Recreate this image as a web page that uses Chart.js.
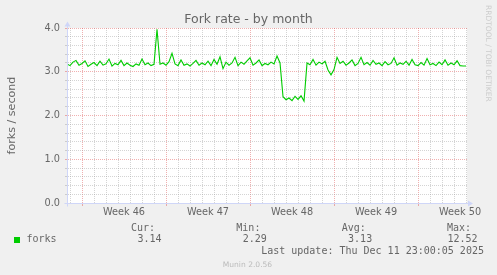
<!DOCTYPE html>
<html>
<head>
<meta charset="utf-8">
<title>Fork rate - by month</title>
<script src="https://cdn.jsdelivr.net/npm/chart.js@4.4.1/dist/chart.umd.min.js"></script>
<style>
  html, body { margin: 0; padding: 0; background: #f0f0f0; }
  #wrap { position: relative; width: 497px; height: 275px; overflow: hidden; }
  #chart { position: absolute; left: 0; top: 0; }
  .mono { position: absolute; white-space: pre; font-family: 'DejaVu Sans Mono', monospace; font-size: 10px; line-height: 10px; color: #666; }
  .swatch { position: absolute; width: 6px; height: 6px; background: #00cc00; }
  .credit { position: absolute; white-space: pre; font-family: 'DejaVu Sans', sans-serif; font-size: 7.55px; line-height: 8px; color: #bbb; }
  .rrd { position: absolute; white-space: pre; font-family: 'DejaVu Sans', sans-serif; font-size: 7.5px; line-height: 8px; color: #ccc; writing-mode: vertical-rl; }
</style>
</head>
<body>
<div id="wrap">
  <canvas id="chart" width="497" height="275"></canvas>
  <div id="legend"></div>
</div>
<script>
// forks / second, 6-hourly averages, oldest first
const forks = [
  3.18, 3.14, 3.22, 3.26, 3.15, 3.19, 3.25, 3.12, 3.17, 3.21,
  3.14, 3.24, 3.15, 3.18, 3.29, 3.13, 3.19, 3.16, 3.26, 3.14,
  3.20, 3.15, 3.12, 3.18, 3.15, 3.29, 3.16, 3.20, 3.14, 3.17,
  3.97, 3.17, 3.20, 3.15, 3.23, 3.42, 3.18, 3.14, 3.27, 3.15,
  3.18, 3.13, 3.19, 3.26, 3.15, 3.20, 3.16, 3.24, 3.14, 3.28,
  3.17, 3.34, 3.07, 3.22, 3.15, 3.20, 3.33, 3.14, 3.22, 3.17,
  3.25, 3.32, 3.15, 3.20, 3.27, 3.14, 3.19, 3.16, 3.22, 3.18,
  3.36, 3.20, 2.43, 2.36, 2.40, 2.34, 2.44, 2.37, 2.45, 2.33,
  3.20, 3.16, 3.28, 3.15, 3.22, 3.18, 3.24, 3.04, 2.93, 3.05,
  3.33, 3.19, 3.24, 3.15, 3.20, 3.27, 3.14, 3.19, 3.33, 3.16,
  3.21, 3.15, 3.26, 3.17, 3.20, 3.14, 3.23, 3.16, 3.19, 3.32,
  3.15, 3.20, 3.17, 3.24, 3.15, 3.28, 3.16, 3.14, 3.21, 3.15,
  3.30, 3.16, 3.19, 3.14, 3.22, 3.16, 3.27, 3.15, 3.20, 3.16,
  3.25, 3.14, 3.13, 3.13
];
const stepDays = 0.25;        // one sample every 6 hours
const spanDays = 33.33;       // width of the month window
const firstDayLine = 1.25;    // Mon Nov 10 00:00, days after window start
const weekLabels = ['Week 46', 'Week 47', 'Week 48', 'Week 49', 'Week 50'];
const yMax = 4;
const yMinorStep = 0.2;

const seriesName = 'forks';
const statNames = ['Cur:', 'Min:', 'Avg:', 'Max:'];
const statValues = ['3.14', '2.29', '3.13', '12.52'];
const lastUpdate = 'Last update: Thu Dec 11 23:00:05 2025';
const credit = 'Munin 2.0.56';
const rrdCredit = 'RRDTOOL / TOBI OETIKER';

const near = (a, b) => Math.abs(a - b) < 1e-6;
const mod7 = v => ((v % 7) + 7) % 7;
const isWeekLine = v => v >= firstDayLine && near(mod7(v - firstDayLine), 0);
const isWeekMid = v => near(mod7(v - firstDayLine - 3.5), 0);

const MINOR = 'rgba(160,160,160,0.45)';
const MAJOR = 'rgba(222,79,79,0.45)';
const AXIS = '#cfd6f8';

// fondo blanco del área y flechas de los ejes, como en rrdtool
const muninBits = {
  id: 'muninBits',
  beforeDraw(chart) {
    const { ctx, chartArea: a } = chart;
    ctx.save();
    ctx.fillStyle = '#ffffff';
    ctx.fillRect(a.left, a.top, a.right - a.left, a.bottom - a.top);
    ctx.restore();
  },
  afterDraw(chart) {
    const { ctx, chartArea: a } = chart;
    const x0 = Math.round(a.left) + 0.5, y0 = Math.round(a.bottom) + 0.5;
    ctx.save();
    ctx.strokeStyle = AXIS;
    ctx.fillStyle = AXIS;
    ctx.lineWidth = 1;
    ctx.beginPath();
    ctx.moveTo(x0, y0 + 3); ctx.lineTo(x0, a.top - 3);
    ctx.moveTo(x0 - 3, y0); ctx.lineTo(a.right + 3, y0);
    ctx.stroke();
    ctx.beginPath();
    ctx.moveTo(x0, a.top - 6.5); ctx.lineTo(x0 - 3, a.top - 1.5); ctx.lineTo(x0 + 3, a.top - 1.5);
    ctx.fill();
    ctx.beginPath();
    ctx.moveTo(a.right + 6, y0); ctx.lineTo(a.right + 1, y0 - 3); ctx.lineTo(a.right + 1, y0 + 3);
    ctx.fill();
    ctx.restore();
  }
};

Chart.defaults.font.family = "'DejaVu Sans', sans-serif";
Chart.defaults.color = '#666';

new Chart(document.getElementById('chart'), {
  type: 'line',
  data: {
    datasets: [{
      label: seriesName,
      data: forks.map((v, i) => ({ x: i * stepDays, y: v })),
      borderColor: '#00cc00',
      borderWidth: 1.1,
      pointRadius: 0,
      tension: 0,
      fill: false
    }]
  },
  options: {
    responsive: false,
    devicePixelRatio: 1,
    animation: false,
    layout: { padding: 0 },
    plugins: {
      legend: { display: false },
      tooltip: { enabled: false },
      title: {
        display: true,
        text: 'Fork rate - by month',
        color: '#666',
        font: { size: 12.5, weight: 'normal', lineHeight: 1.2 },
        padding: { top: 12, bottom: 1 }
      }
    },
    scales: {
      x: {
        type: 'linear',
        min: 0,
        max: spanDays,
        afterBuildTicks: s => {
          const t = [];
          for (let d = firstDayLine - 1; d <= spanDays; d += 1) t.push({ value: d });
          weekLabels.forEach((w, i) => t.push({ value: firstDayLine + 7 * i + 3.5 }));
          t.sort((a, b) => a.value - b.value);
          s.ticks = t;
        },
        afterFit: s => { s.height = 72; },
        ticks: {
          autoSkip: false,
          maxRotation: 0,
          minRotation: 0,
          padding: 1,
          color: '#666',
          font: { size: 9.72 },
          callback: v => isWeekMid(v) ? weekLabels[Math.round((v - firstDayLine - 3.5) / 7)] : ''
        },
        grid: {
          lineWidth: 1,
          tickLength: 3,
          color: c => isWeekMid(c.tick.value) ? 'rgba(0,0,0,0)' : (isWeekLine(c.tick.value) ? MAJOR : MINOR),
          tickColor: c => isWeekLine(c.tick.value) ? MAJOR : 'rgba(0,0,0,0)'
        },
        border: { color: AXIS, dash: [1, 1] }
      },
      y: {
        type: 'linear',
        min: 0,
        max: yMax,
        afterBuildTicks: s => {
          const t = [];
          for (let i = 0; i <= Math.round(yMax / yMinorStep); i++) t.push({ value: i * yMinorStep });
          s.ticks = t;
        },
        afterFit: s => { s.width = 67; },
        ticks: {
          autoSkip: false,
          padding: 5,
          color: '#666',
          font: { size: 9.72 },
          callback: v => near(v, Math.round(v)) ? v.toFixed(1) : ''
        },
        grid: {
          lineWidth: 1,
          tickLength: 2,
          color: c => near(c.tick.value, Math.round(c.tick.value)) ? MAJOR : MINOR,
          tickColor: c => near(c.tick.value, Math.round(c.tick.value)) ? MAJOR : MINOR
        },
        border: { color: AXIS, dash: [1, 1] },
        title: {
          display: true,
          text: 'forks / second',
          color: '#666',
          font: { size: 11.1, lineHeight: 1.2 },
          padding: { top: 5.3, bottom: 0 }
        }
      },
      yRight: {
        type: 'linear',
        position: 'right',
        grid: { display: false },
        ticks: { display: false },
        border: { display: false },
        afterFit: s => { s.width = 30; }
      }
    }
  },
  plugins: [muninBits]
});

// leyenda estilo munin
const legend = document.getElementById('legend');
function put(cls, text, style) {
  const el = document.createElement('div');
  el.className = cls;
  el.textContent = text;
  Object.assign(el.style, style);
  legend.appendChild(el);
}
put('swatch', '', { left: '14px', top: '236.5px' });
put('mono', seriesName, { left: '26.5px', top: '234.2px' });
statNames.forEach((n, i) => {
  put('mono', n, { left: (131 + 105.33 * i) + 'px', top: '223px' });
  put('mono', statValues[i], { right: (497 - 161.5 - 105.33 * i) + 'px', top: '233.8px' });
});
put('mono', lastUpdate, { left: '261.2px', top: '246px' });
put('credit', credit, { left: '222.8px', top: '260.6px' });
put('rrd', rrdCredit, { left: '484.1px', top: '4.5px' });
</script>
</body>
</html>
